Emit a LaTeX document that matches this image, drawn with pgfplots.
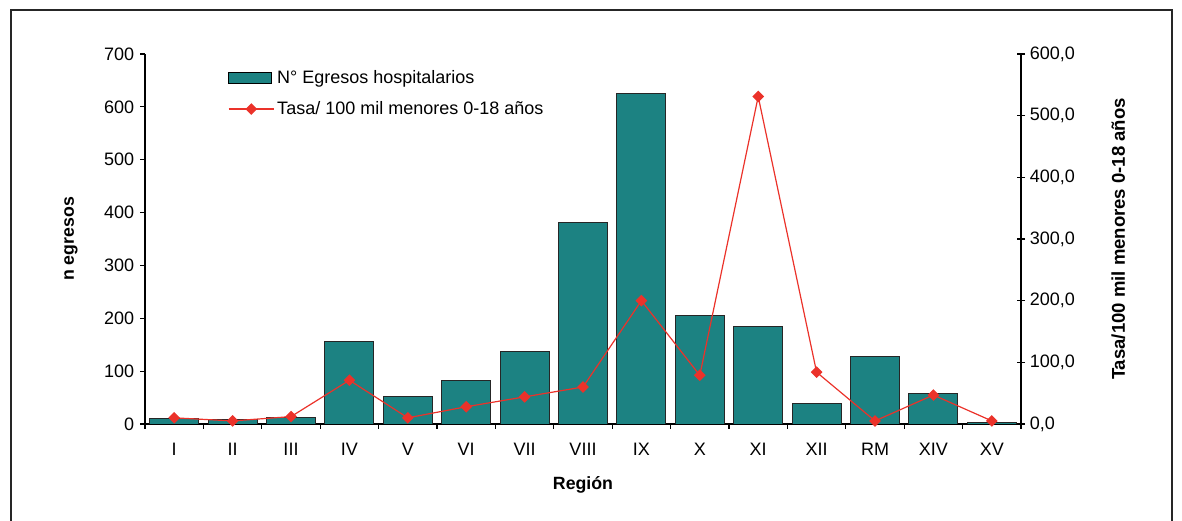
\documentclass[border=0pt]{standalone}
\usepackage{fontspec}
\setmainfont{Liberation Sans}
\usepackage{pgfplots}
\pgfplotsset{compat=1.18}
\definecolor{barteal}{RGB}{28,130,130}
\definecolor{linered}{RGB}{235,50,42}
\pgfplotsset{
  common/.style={
    scale only axis, width=657pt, height=277.5pt,
    xmin=-0.5, xmax=14.5,
    at={(108.75pt,72.75pt)}, anchor=south west,
    tick label style={font=\fontsize{13.5}{16}\selectfont},
    label style={font=\fontsize{13.3}{16}\selectfont\bfseries},
    /pgf/number format/assume math mode=true,
    axis line style={line width=0.9pt},
    tick style={line width=0.9pt, black},
    tick align=outside, major tick length=3.5pt,
  },
  redlegend/.style={legend image code/.code={\draw[mark repeat=2, mark phase=2, ##1] plot coordinates {(0pt,0pt) (17pt,0pt) (34pt,0pt)};}},
}
\begin{document}
\fontsize{13.3}{16}\selectfont
\begin{tikzpicture}
\useasboundingbox (0,0) rectangle (886.5pt,390.75pt);
\draw[line width=1pt, black!85] (8.25pt,-20pt) rectangle (879pt,383.25pt);
\begin{axis}[common,
  ymin=0, ymax=700, ytick={0,100,...,700},
  axis x line*=bottom, axis y line*=left,
  xtick={-0.5,0.5,...,14.5},
  x tick label as interval,
  xticklabels={I,II,III,IV,V,VI,VII,VIII,IX,X,XI,XII,RM,XIV,XV},
  xticklabel style={yshift=-6pt},
  xlabel={Región}, ylabel={n egresos},
  xlabel style={at={(axis description cs:0.5,-0.165)}, anchor=center},
  ylabel style={at={(axis description cs:-0.0845,0.5)}, anchor=center},
  ybar, bar width=36.75pt,
]
\addplot[fill=barteal, draw=black!85, line width=0.7pt] coordinates {
(0,10) (1,9) (2,12) (3,156) (4,52) (5,83) (6,138) (7,382) (8,626) (9,206) (10,184) (11,39) (12,128) (13,57) (14,3)};
\end{axis}
\begin{axis}[common,
  ymin=0, ymax=600, ytick={0,100,...,600},
  axis y line*=right, axis x line=none,
  tick align=center, major tick length=6pt,
  yticklabel style={xshift=-1pt, /pgf/number format/.cd, fixed, fixed zerofill, precision=1, use comma},
  ylabel={Tasa/100 mil menores 0-18 años},
  ylabel style={at={(axis description cs:1.111,0.5)}, anchor=center, font=\fontsize{13.9}{16}\selectfont\bfseries},
  legend style={draw=none, fill=none, inner sep=0pt, row sep=11.5pt,
    at={(axis description cs:0.0945,0.957)}, anchor=north west,
    font=\fontsize{13.5}{16}\selectfont,
    nodes={inner xsep=2pt, inner ysep=0pt}},
  legend cell align=left,
]
\addlegendimage{legend image code/.code={\draw[fill=barteal,draw=black,line width=0.7pt] (0pt,-4pt) rectangle (32pt,4pt);}}
\addlegendentry{N° Egresos hospitalarios}
\addplot[linered, line width=0.9pt, mark=square*, mark size=2.65pt, mark options={rotate=45, fill=linered, draw=linered}, redlegend]
  coordinates {
(0,10) (1,5) (2,12) (3,71) (4,10) (5,28) (6,44) (7,60) (8,200) (9,79) (10,531) (11,84) (12,5) (13,47) (14,5)};
\addlegendentry{Tasa/ 100 mil menores 0-18 años}
\end{axis}
\end{tikzpicture}
\end{document}
